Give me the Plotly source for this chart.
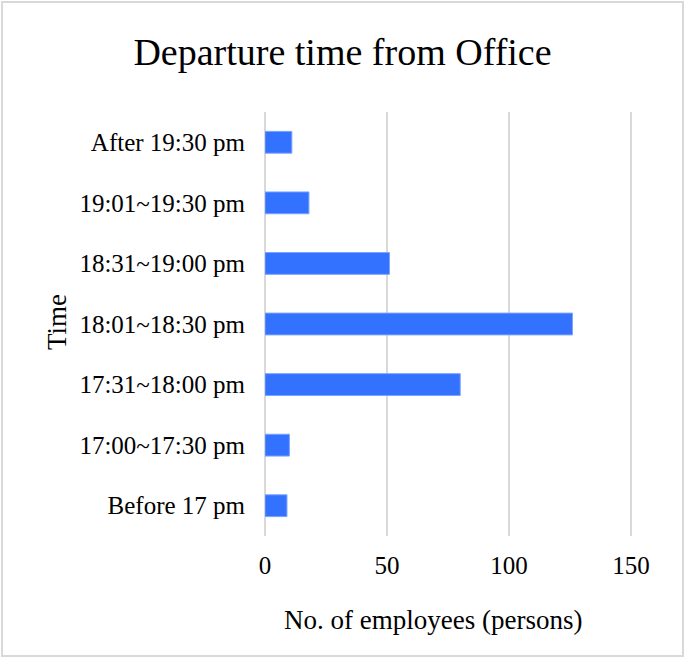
import plotly.graph_objects as go

categories = ["Before 17 pm", "17:00~17:30 pm", "17:31~18:00 pm", "18:01~18:30 pm",
              "18:31~19:00 pm", "19:01~19:30 pm", "After 19:30 pm"]
employees = [9, 10, 80, 126, 51, 18, 11]
x_ticks = [0, 50, 100, 150]

W, H = 685, 658
ML, MR, MT, MB = 265, 52, 112, 122
pw, ph = W - ML - MR, H - MT - MB

def px_x(p):
    return (p - ML) / pw

def px_y(p):
    return (H - MB - p) / ph

font = "Liberation Serif, Times New Roman, serif"

fig = go.Figure(go.Bar(
    x=employees, y=categories, orientation="h",
    marker=dict(color="#3371FF", line=dict(color="#7AA2FF", width=1)),
))

fig.update_layout(
    width=W, height=H,
    margin=dict(l=ML, r=MR, t=MT, b=MB, pad=0),
    paper_bgcolor="white", plot_bgcolor="white",
    bargap=0.64,
    showlegend=False,
    font=dict(family=font, color="black"),
    title=dict(text="Departure time from Office", x=0.5, xanchor="center",
               y=1 - 52 / H, yanchor="middle",
               font=dict(family=font, size=38, color="black")),
    xaxis=dict(range=[0, 150.8], tickvals=x_ticks, showgrid=True, gridcolor="#D9D9D9",
               gridwidth=2, zeroline=True, zerolinecolor="#D9D9D9", zerolinewidth=2,
               showline=False, ticks="", ticklabelstandoff=12,
               tickfont=dict(family=font, size=25, color="black")),
    yaxis=dict(showgrid=False, ticks="", showline=False, ticklabelstandoff=19,
               tickfont=dict(family=font, size=25, color="black")),
    annotations=[
        dict(text="No. of employees (persons)", xref="paper", yref="paper",
             x=px_x(433), y=px_y(620), xanchor="center", yanchor="middle",
             showarrow=False, font=dict(family=font, size=27, color="black")),
        dict(text="Time", xref="paper", yref="paper", textangle=-90,
             x=px_x(57), y=px_y(322), xanchor="center", yanchor="middle",
             showarrow=False, font=dict(family=font, size=27, color="black")),
    ],
    shapes=[dict(type="rect", xref="paper", yref="paper",
                 x0=px_x(2), x1=px_x(683), y0=px_y(656), y1=px_y(2),
                 line=dict(color="#D9D9D9", width=2), fillcolor="rgba(0,0,0,0)",
                 layer="below")],
)

fig.write_html("out.html", config={"displayModeBar": False},
               post_script="document.body.style.margin='0';")
